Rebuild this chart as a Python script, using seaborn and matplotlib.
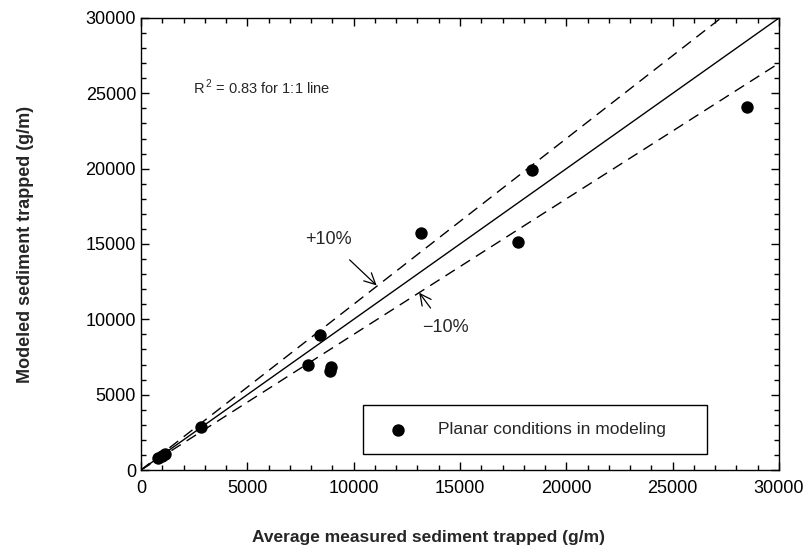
import matplotlib
matplotlib.use("Agg")
import matplotlib.pyplot as plt
import seaborn as sns
import pandas as pd
from matplotlib.ticker import MultipleLocator

# ---- data ----
measured = [800, 1000, 1150, 2800, 7850, 8400, 8950, 8900, 13150, 17750, 18400, 28500]
modeled = [800, 950, 1050, 2850, 7000, 8950, 6850, 6550, 15750, 15100, 19900, 24100]
line_x = [0, 30000]
one_to_one = [0, 30000]
plus10 = [0, 33000]
minus10 = [0, 27000]
x_ticks = [0, 5000, 10000, 15000, 20000, 25000, 30000]
y_ticks = [0, 5000, 10000, 15000, 20000, 25000, 30000]
series_label = "Planar conditions in modeling"
r2_text = "R$^{\\,2}$ = 0.83 for 1:1 line"

sns.set_theme(style="white")
plt.rcParams['font.family'] = ['Liberation Sans', 'DejaVu Sans']
plt.rcParams['axes.unicode_minus'] = True
plt.rcParams['mathtext.fontset'] = 'custom'
plt.rcParams['mathtext.rm'] = 'Liberation Sans'

fig = plt.figure(figsize=(8.12, 5.48), dpi=100)
ax = fig.add_axes([0.1736, 0.1423, 0.7858, 0.8249])

df = pd.DataFrame({"measured": measured, "modeled": modeled})
lines = pd.DataFrame({"x": line_x, "one": one_to_one, "p": plus10, "m": minus10})

sns.lineplot(data=lines, x="x", y="one", ax=ax, color="black", lw=1.0)
sns.lineplot(data=lines, x="x", y="p", ax=ax, color="black", lw=1.0)
sns.lineplot(data=lines, x="x", y="m", ax=ax, color="black", lw=1.0)
ax.lines[1].set_dashes([8, 5])
ax.lines[2].set_dashes([8, 5])

sns.scatterplot(data=df, x="measured", y="modeled", ax=ax, color="black",
                s=80, edgecolor="black", linewidth=0, label=series_label, zorder=5)

ax.set_xlim(0, 30000)
ax.set_ylim(0, 30000)
ax.set_xticks(x_ticks)
ax.set_yticks(y_ticks)
ax.xaxis.set_minor_locator(MultipleLocator(1000))
ax.yaxis.set_minor_locator(MultipleLocator(1000))
ax.tick_params(which="both", direction="in", top=True, right=True, bottom=True, left=True,
               color="black", labelsize=13, labelcolor="black")
ax.tick_params(which="major", length=6, width=1)
ax.tick_params(which="minor", length=3.5, width=1)
ax.tick_params(axis="x", which="major", pad=7)
ax.tick_params(axis="y", which="major", pad=3.5)
for s in ax.spines.values():
    s.set_color("black")
    s.set_linewidth(1.0)

ax.set_xlabel("Average measured sediment trapped (g/m)", fontsize=12.5, fontweight="bold")
ax.xaxis.set_label_coords(0.45, -0.132)
ax.set_ylabel("Modeled sediment trapped (g/m)", fontsize=13, fontweight="bold", labelpad=37)

ax.text(2450, 25400, r2_text, fontsize=10.5, va="center", ha="left")

ax.annotate("+10%", xy=(11080, 12250), xytext=(8800, 15300), fontsize=13,
            ha="center", va="center",
            arrowprops=dict(arrowstyle="->", color="black", lw=0.9, mutation_scale=20,
                            shrinkA=9, shrinkB=0))
ax.annotate("\u221210%", xy=(13080, 11770), xytext=(14300, 9450), fontsize=13,
            ha="center", va="center",
            arrowprops=dict(arrowstyle="->", color="black", lw=0.9, mutation_scale=20,
                            shrinkA=7, shrinkB=0))

leg = ax.legend(loc="center", bbox_to_anchor=(0.348, 0.033, 0.539, 0.113), mode="expand",
                frameon=True, fancybox=False, fontsize=12.5, handletextpad=1.3,
                borderpad=1.0, borderaxespad=0, markerscale=1.0)
leg.get_frame().set_edgecolor("black")
leg.get_frame().set_linewidth(1.0)
leg.get_frame().set_alpha(1)

fig.savefig("out.png", dpi=100)
